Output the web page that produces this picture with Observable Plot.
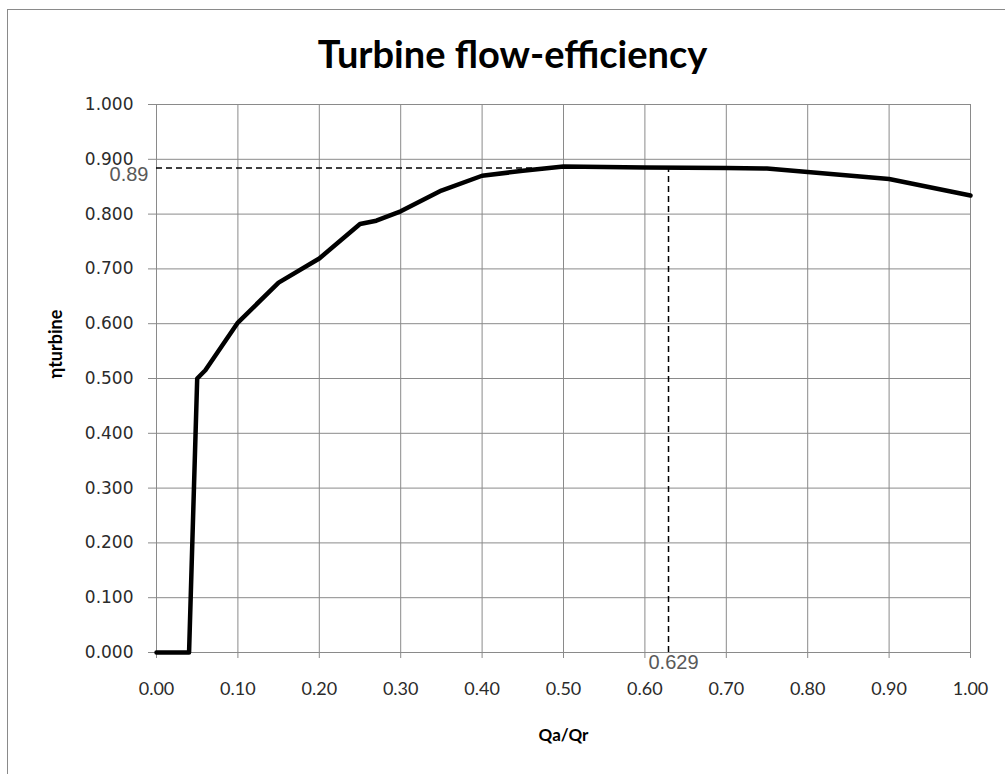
<!DOCTYPE html>
<html>
<head>
<meta charset="utf-8">
<script src="https://cdn.jsdelivr.net/npm/d3@7"></script>
<script src="https://cdn.jsdelivr.net/npm/@observablehq/plot@0.6"></script>
<style>
  html, body { margin: 0; padding: 0; background: #fff; }
  #wrap { position: relative; width: 1005px; height: 774px; overflow: hidden; }
  #frame { position: absolute; left: 7px; top: 9px; width: 1010px; height: 780px; border-left: 1px solid #8a8a8a; border-top: 1px solid #8a8a8a; pointer-events: none; }
  #chart { position: absolute; left: 0; top: 0; }
</style>
</head>
<body>
<div id="wrap"><div id="chart"></div><div id="frame"></div></div>
<script>
// Data
const flowRatio = [0, 0.04, 0.05, 0.06, 0.10, 0.15, 0.20, 0.25, 0.27, 0.30, 0.35, 0.40, 0.45, 0.50, 0.60, 0.70, 0.75, 0.80, 0.90, 1.00];
const efficiency = [0, 0, 0.500, 0.515, 0.602, 0.675, 0.719, 0.782, 0.788, 0.805, 0.843, 0.870, 0.879, 0.887, 0.885, 0.884, 0.883, 0.877, 0.864, 0.834];

const xTicks = [0, 0.1, 0.2, 0.3, 0.4, 0.5, 0.6, 0.7, 0.8, 0.9, 1.0];
const yTicks = [0, 0.1, 0.2, 0.3, 0.4, 0.5, 0.6, 0.7, 0.8, 0.9, 1.0];

const peakQ = [0.629];
const peakEta = [0.884];
const peakQLabel = ["0.629"];
const peakEtaLabel = ["0.89"];

const titleText = "Turbine flow-efficiency";
const xLabel = "Qa/Qr";
const yLabel = "ηturbine";

const curve = flowRatio.map((q, i) => ({q, eta: efficiency[i]}));

const gridColor = "#8a8a8a";
const calibri = "Lato, 'Open Sans', sans-serif";

const plot = Plot.plot({
  width: 1005,
  height: 774,
  marginLeft: 156,
  marginRight: 35,
  marginTop: 104,
  marginBottom: 122,
  style: {background: "transparent", overflow: "visible"},
  x: {domain: [0, 1]},
  y: {domain: [0, 1]},
  marks: [
    Plot.gridX(xTicks, {stroke: gridColor, strokeOpacity: 1, strokeWidth: 1}),
    Plot.gridY(yTicks, {stroke: gridColor, strokeOpacity: 1, strokeWidth: 1}),
    Plot.axisX(xTicks, {
      tickSize: 6, tickPadding: 24, stroke: gridColor,
      tickFormat: d3.format(".2f"),
      fontSize: 18, fontFamily: calibri, fill: "#2b2b2b", label: null
    }),
    Plot.axisY(yTicks, {
      tickSize: 8, tickPadding: 15, stroke: gridColor,
      tickFormat: d3.format(".3f"),
      fontSize: 17, fontFamily: "'DejaVu Sans', sans-serif", fill: "#2b2b2b", label: null
    }),
    Plot.ruleY(peakEta, {x1: 0, x2: peakQ[0], stroke: "#000", strokeWidth: 1.5, strokeDasharray: "6,4"}),
    Plot.ruleX(peakQ, {y1: 0, y2: peakEta[0], stroke: "#000", strokeWidth: 1.5, strokeDasharray: "6,4"}),
    Plot.line(curve, {x: "q", y: "eta", stroke: "#000", strokeWidth: 4.5, strokeLinejoin: "round"}),
    Plot.text(peakEtaLabel, {x: [0], y: peakEta, text: d => d, textAnchor: "end", lineAnchor: "middle", dx: -8, dy: 7,
      fontSize: 20, fontFamily: "'Liberation Sans', Arial, sans-serif", fill: "#595959"}),
    Plot.text(peakQLabel, {x: peakQ, y: [0], text: d => d, textAnchor: "middle", lineAnchor: "top", dx: 5, dy: 2,
      fontSize: 20, fontFamily: "'Liberation Sans', Arial, sans-serif", fill: "#595959"}),
    Plot.text([titleText], {frameAnchor: "top", dx: -51, dy: -49, lineAnchor: "middle", text: d => d,
      fontSize: 38, fontWeight: "bold", fontFamily: calibri, fill: "#000"}),
    Plot.text([xLabel], {frameAnchor: "bottom", dy: 83, lineAnchor: "middle", text: d => d,
      fontSize: 17, fontWeight: "bold", fontFamily: calibri, fill: "#000"}),
    Plot.text([yLabel], {frameAnchor: "left", dx: -100, rotate: -90, lineAnchor: "middle", text: d => d,
      fontSize: 18, fontWeight: "bold", fontFamily: calibri, fill: "#000"})
  ]
});
document.getElementById("chart").appendChild(plot);
</script>
</body>
</html>
